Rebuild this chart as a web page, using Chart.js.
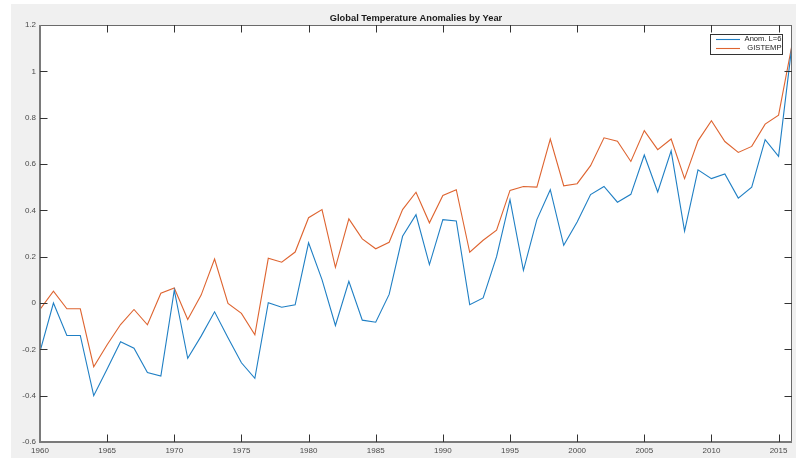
<!DOCTYPE html>
<html><head><meta charset="utf-8">
<script src="https://cdn.jsdelivr.net/npm/chart.js@4.4.0/dist/chart.umd.min.js"></script>
<style>html,body{margin:0;padding:0;background:#fff;overflow:hidden;}</style>
</head><body>
<canvas id="c" width="796" height="459" style="display:block;width:796px;height:459px"></canvas>
<script>
const chartTitle = "Global Temperature Anomalies by Year";
const seriesNames = ["Anom. L=6", "GISTEMP"];
const seriesColors = ["#1f7fc4", "#de6430"];
const years = [1960,1961,1962,1963,1964,1965,1966,1967,1968,1969,
  1970,1971,1972,1973,1974,1975,1976,1977,1978,1979,
  1980,1981,1982,1983,1984,1985,1986,1987,1988,1989,
  1990,1991,1992,1993,1994,1995,1996,1997,1998,1999,
  2000,2001,2002,2003,2004,2005,2006,2007,2008,2009,
  2010,2011,2012,2013,2014,2015,2016];
const anomL6 = [-0.21,0.00,-0.14,-0.14,-0.40,-0.285,-0.167,-0.195,-0.30,-0.315,
  0.055,-0.239,-0.143,-0.038,-0.15,-0.258,-0.325,0.001,-0.018,-0.008,
  0.26,0.101,-0.097,0.094,-0.074,-0.083,0.037,0.288,0.381,0.166,
  0.36,0.354,-0.007,0.022,0.20,0.446,0.141,0.36,0.489,0.249,
  0.35,0.468,0.503,0.435,0.469,0.639,0.479,0.657,0.31,0.575,
  0.537,0.557,0.453,0.50,0.705,0.633,1.114];
const gistemp = [-0.028,0.051,-0.025,-0.025,-0.275,-0.18,-0.093,-0.028,-0.094,0.042,
  0.065,-0.071,0.034,0.19,-0.002,-0.045,-0.137,0.193,0.176,0.22,
  0.368,0.403,0.154,0.363,0.277,0.234,0.262,0.403,0.478,0.346,
  0.464,0.489,0.219,0.271,0.314,0.486,0.503,0.50,0.708,0.506,
  0.515,0.593,0.713,0.698,0.611,0.744,0.662,0.708,0.537,0.70,
  0.787,0.697,0.65,0.676,0.772,0.811,1.114];
const xMin = 1960, xMax = 2016, xStep = 5;
const yMin = -0.6, yMax = 1.2, yStep = 0.2;

const FONT = "'Liberation Sans', Arial, Helvetica, sans-serif";

const matlabFrame = {
  id: 'matlabFrame',
  beforeDraw(chart) {
    const ctx = chart.ctx, a = chart.chartArea;
    ctx.save();
    ctx.fillStyle = '#ffffff';
    ctx.fillRect(0, 0, chart.width, chart.height);
    ctx.fillStyle = '#f0f0f0';
    ctx.fillRect(11, 4, chart.width - 11, chart.height - 5);
    ctx.fillStyle = '#ffffff';
    ctx.fillRect(a.left, a.top, a.right - a.left, a.bottom - a.top);
    ctx.restore();
  },
  afterDatasetsDraw(chart) {
    const ctx = chart.ctx, a = chart.chartArea;
    const xs = chart.scales.x, ys = chart.scales.y;
    ctx.save();
    ctx.strokeStyle = '#6a6a6a';
    ctx.lineWidth = 1;
    ctx.beginPath();
    ctx.moveTo(a.left, a.top + 0.5); ctx.lineTo(a.right, a.top + 0.5);
    ctx.moveTo(a.right - 0.5, a.top); ctx.lineTo(a.right - 0.5, a.bottom);
    ctx.stroke();
    ctx.strokeStyle = '#7a7a7a';
    ctx.lineWidth = 2;
    ctx.beginPath();
    ctx.moveTo(a.left, a.top); ctx.lineTo(a.left, a.bottom + 1);
    ctx.moveTo(a.left - 1, a.bottom); ctx.lineTo(a.right, a.bottom);
    ctx.stroke();
    const tl = 7.5;
    ctx.strokeStyle = '#333333';
    ctx.lineWidth = 1;
    ctx.beginPath();
    xs.ticks.forEach(t => {
      const px = Math.round(xs.getPixelForValue(t.value)) + 0.5;
      if (px <= a.left + 2) return;
      ctx.moveTo(px, a.bottom); ctx.lineTo(px, a.bottom - tl);
      ctx.moveTo(px, a.top); ctx.lineTo(px, a.top + tl);
    });
    ys.ticks.forEach(t => {
      const py = Math.round(ys.getPixelForValue(t.value)) + 0.5;
      if (py <= a.top + 2 || py >= a.bottom - 2) return;
      ctx.moveTo(a.left, py); ctx.lineTo(a.left + tl, py);
      ctx.moveTo(a.right, py); ctx.lineTo(a.right - tl, py);
    });
    ctx.stroke();
    ctx.restore();
  },
  afterDraw(chart) {
    const ctx = chart.ctx, a = chart.chartArea;
    ctx.save();
    ctx.fillStyle = '#1a1a1a';
    ctx.font = 'bold 9.3px ' + FONT;
    ctx.textAlign = 'center';
    ctx.textBaseline = 'middle';
    ctx.fillText(chartTitle, (a.left + a.right) / 2, 18.5);
    const bx = 710, by = 34, bw = 73, bh = 21;
    ctx.fillStyle = '#ffffff';
    ctx.fillRect(bx, by, bw, bh);
    ctx.strokeStyle = '#333333';
    ctx.lineWidth = 1;
    ctx.strokeRect(bx + 0.5, by + 0.5, bw - 1, bh - 1);
    ctx.font = '7.6px ' + FONT;
    ctx.textAlign = 'right';
    ctx.textBaseline = 'middle';
    chart.data.datasets.forEach((ds, i) => {
      const ly = by + 5.5 + i * 9;
      ctx.strokeStyle = ds.borderColor;
      ctx.lineWidth = 1.1;
      ctx.beginPath();
      ctx.moveTo(bx + 6, ly); ctx.lineTo(bx + 30, ly);
      ctx.stroke();
      ctx.fillStyle = '#1a1a1a';
      ctx.fillText(ds.label, bx + bw - 1.5, ly - 0.5);
    });
    ctx.restore();
  }
};

new Chart(document.getElementById('c'), {
  type: 'line',
  data: {
    datasets: [
      { label: seriesNames[0], data: years.map((y, i) => ({x: y, y: anomL6[i]})),
        borderColor: seriesColors[0], borderWidth: 1.1, pointRadius: 0, tension: 0, fill: false },
      { label: seriesNames[1], data: years.map((y, i) => ({x: y, y: gistemp[i]})),
        borderColor: seriesColors[1], borderWidth: 1.1, pointRadius: 0, tension: 0, fill: false }
    ]
  },
  options: {
    responsive: false,
    animation: false,
    devicePixelRatio: 1,
    layout: { padding: { top: 25, right: 4, left: 0, bottom: 0 } },
    plugins: { legend: { display: false }, title: { display: false }, tooltip: { enabled: false } },
    scales: {
      x: {
        type: 'linear', min: xMin, max: xMax,
        grid: { display: false, drawTicks: false },
        border: { display: false },
        ticks: { stepSize: xStep, includeBounds: false, autoSkip: false, maxRotation: 0, padding: 4,
          color: '#4a4a4a', font: { family: FONT, size: 8 }, callback: v => String(v) },
        afterFit: s => { s.height = 17; }
      },
      y: {
        type: 'linear', min: yMin, max: yMax,
        grid: { display: false, drawTicks: false },
        border: { display: false },
        ticks: { stepSize: yStep, padding: 4, color: '#4a4a4a', font: { family: FONT, size: 8 },
          callback: v => String(parseFloat(Number(v).toFixed(1))) },
        afterFit: s => { s.width = 40; }
      }
    }
  },
  plugins: [matlabFrame]
});
</script>
</body></html>
